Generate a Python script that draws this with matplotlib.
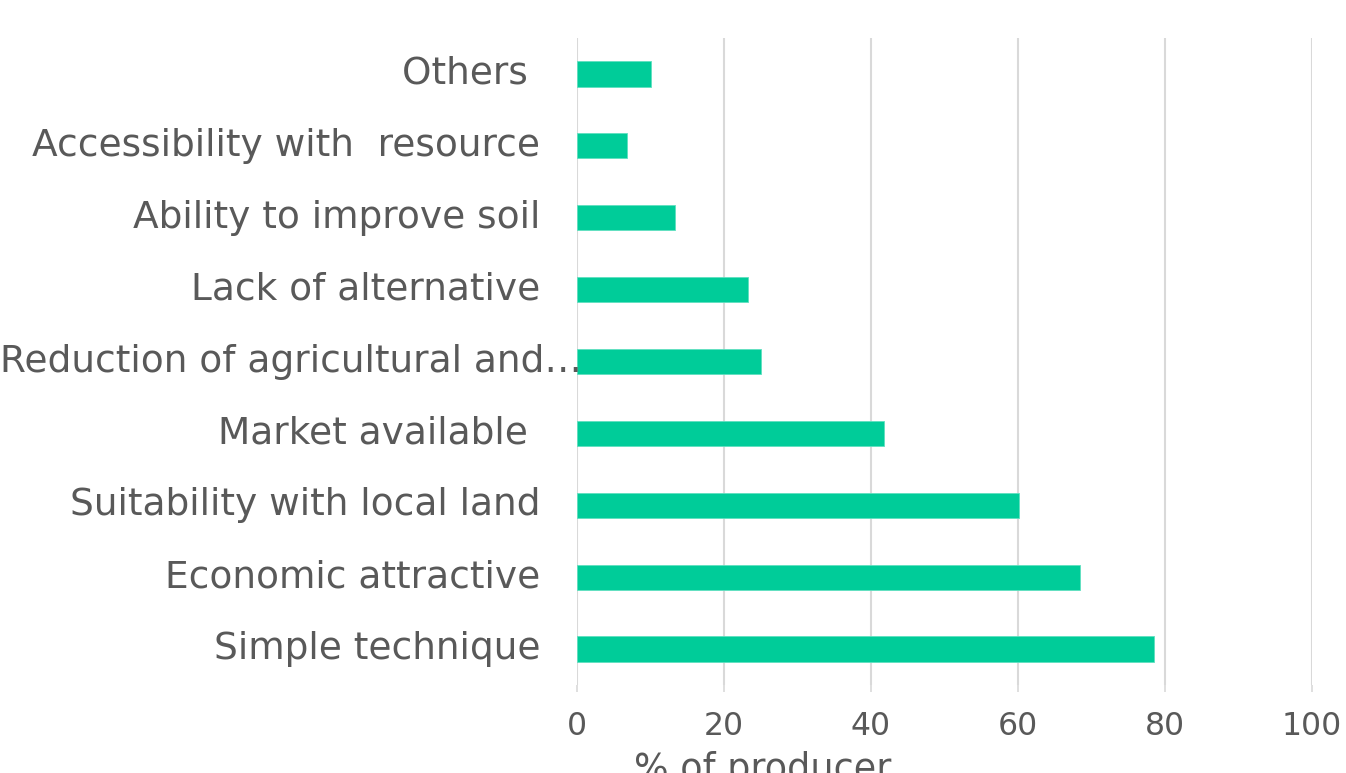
import matplotlib
matplotlib.use("Agg")
import matplotlib.pyplot as plt
from matplotlib.transforms import blended_transform_factory

categories = ["Simple technique", "Economic attractive", "Suitability with local land",
              "Market available ", "Reduction of agricultural and\u2026", "Lack of alternative",
              "Ability to improve soil", "Accessibility with  resource", "Others "]
values = [78.5, 68.4, 60.1, 41.8, 25.1, 23.3, 13.4, 6.8, 10.0]
xticks = [0, 20, 40, 60, 80, 100]
xlabel = "% of producer"

plt.rcParams['font.family'] = ['DejaVu Sans']
TXT = '#595959'
GRID = '#d9d9d9'
BAR = '#00cc99'

fig = plt.figure(figsize=(13.46, 7.73), dpi=100)
ax = fig.add_axes([577/1346, (773-685)/773, (1312-577)/1346, (685-38)/773])

y = list(range(len(categories)))
ax.barh(y, values, height=0.35, color=BAR, edgecolor='#5fe0c0', linewidth=0.6, zorder=3)

ax.set_xlim(0, 100)
ax.set_ylim(-0.5, len(categories) - 0.5)
ax.set_xticks(xticks)
ax.set_xticklabels([str(t) for t in xticks], fontsize=22.7, color=TXT)
ax.xaxis.grid(True, color=GRID, linewidth=1.5, zorder=0)
ax.tick_params(axis='x', length=5, width=1.2, color=GRID, pad=14)

ax.set_yticks(y)
labels = [c if i != 4 else "" for i, c in enumerate(categories)]
ax.set_yticklabels(labels, fontsize=27, color=TXT, va='center')
ax.tick_params(axis='y', length=0, pad=26.6)

for s in ax.spines.values():
    s.set_visible(False)

# long truncated label starting at the left edge
tr = blended_transform_factory(fig.transFigure, ax.transData)
ax.text(0.0, 4, categories[4], transform=tr, ha='left', va='center',
        fontsize=27, color=TXT, clip_on=False)

fig.text(763/1346, -0.009, xlabel, ha='center', va='baseline', fontsize=26.3, color=TXT)

fig.savefig("out.png", dpi=100)
